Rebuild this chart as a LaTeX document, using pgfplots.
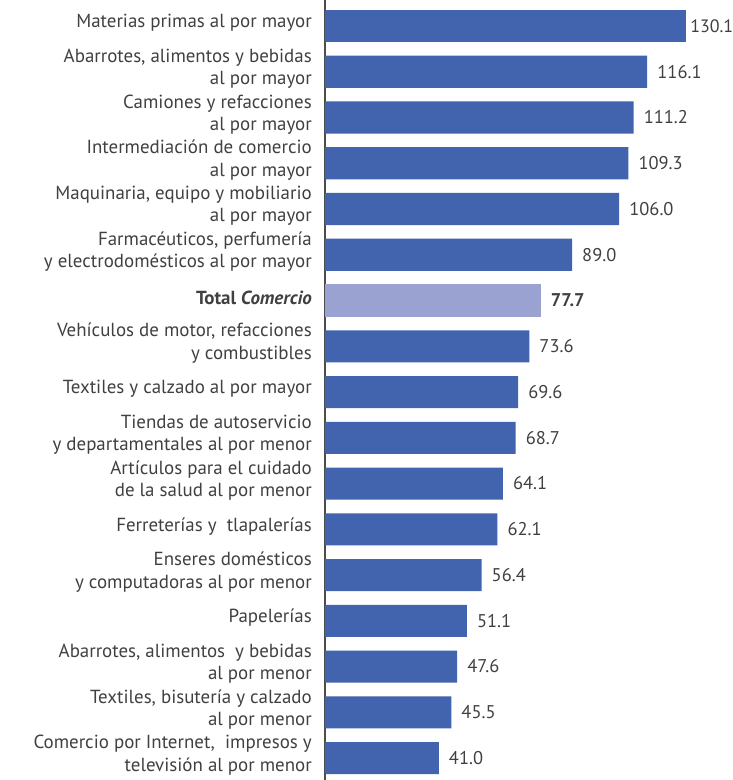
\documentclass[border=0pt]{standalone}
\usepackage{pgfplots}
\pgfplotsset{compat=1.18}
\usepackage{fontspec}
\setmainfont{PT Sans}
\definecolor{barblue}{HTML}{4263AE}
\definecolor{barlight}{HTML}{9AA2D2}
\definecolor{txt}{HTML}{404040}
\begin{document}
\begin{tikzpicture}
\useasboundingbox (0,0) rectangle (733bp,780bp);
\begin{axis}[
  at={(325bp,0bp)}, anchor=south west,
  scale only axis, width=408bp, height=780bp,
  xbar, bar width=0.7, bar shift=0pt,
  xmin=0, xmax=147,
  ymin=-0.568, ymax=16.48, y dir=reverse,
  axis x line=none, axis y line*=left,
  axis line style={-, draw=black!70, line width=1.3pt},
  ytick={0,...,16}, major tick length=0pt,
  yticklabels={
    Materias primas al por mayor,
    {Abarrotes, alimentos y bebidas\\al por mayor},
    Camiones y refacciones\\al por mayor,
    Intermediación de comercio\\al por mayor,
    {Maquinaria, equipo y mobiliario\\al por mayor},
    {Farmacéuticos, perfumería\\y electrodomésticos al por mayor},
    \textbf{Total \textit{Comercio}},
    {Vehículos de motor, refacciones\\y combustibles},
    Textiles y calzado al por mayor,
    Tiendas de autoservicio\\y departamentales al por menor,
    Artículos para el cuidado\\de la salud al por menor,
    Ferreterías y\ \ tlapalerías,
    Enseres domésticos\\y computadoras al por menor,
    Papelerías,
    {Abarrotes, alimentos\ \ y bebidas\\al por menor},
    {Textiles, bisutería y calzado\\al por menor},
    {Comercio por Internet,\ \ impresos y\\televisión al por menor}
  },
  yticklabel style={align=right, text=txt, font=\fontsize{19}{22.5}\selectfont, inner sep=0pt, xshift=-13bp, yshift=3bp},
  nodes near coords,
  nodes near coords align={horizontal},
  point meta=explicit symbolic,
  every node near coord/.append style={font=\fontsize{18.5}{21}\selectfont, text=txt, inner sep=0pt, xshift=10bp, anchor=west},
  clip=false,
]
\addplot[fill=barblue, draw=none, every node near coord/.append style={xshift=-6bp, font=\fontsize{18}{21}\selectfont}] coordinates {
  (130.1,0) [130.1]
};
\addplot[fill=barblue, draw=none] coordinates {
  (116.1,1) [116.1]
  (111.2,2) [111.2]
  (109.3,3) [109.3]
  (106.0,4) [106.0]
  (89.0,5) [89.0]
  (73.6,7) [73.6]
  (69.6,8) [69.6]
  (68.7,9) [68.7]
  (64.1,10) [64.1]
  (62.1,11) [62.1]
  (56.4,12) [56.4]
  (51.1,13) [51.1]
  (47.6,14) [47.6]
  (45.5,15) [45.5]
  (41.0,16) [41.0]
};
\addplot[fill=barlight, draw=none, every node near coord/.append style={font=\fontsize{18.5}{21}\selectfont\bfseries}] coordinates {
  (77.7,6) [77.7]
};
\end{axis}
\end{tikzpicture}
\end{document}
